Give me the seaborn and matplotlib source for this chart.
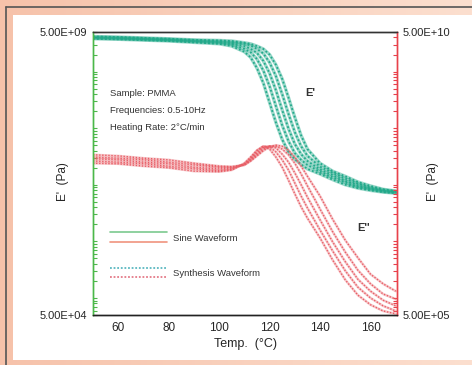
import numpy as np
import pandas as pd
import matplotlib
matplotlib.use("Agg")
import matplotlib.pyplot as plt
import seaborn as sns
from matplotlib.lines import Line2D
from matplotlib.patches import Rectangle
from matplotlib.ticker import FixedLocator, LogLocator, NullFormatter

# temperature grid (degC)
temps = [50, 60, 70, 80, 90, 100, 105, 110, 112.5, 115, 117.5, 120, 122.5,
         125, 127.5, 130, 132.5, 135, 140, 145, 150, 155, 160, 165, 170]

# E' (storage modulus), log10(Pa), five frequencies 0.5-10 Hz
e1_f1 = [9.58, 9.57, 9.555, 9.54, 9.515, 9.49, 9.45, 9.35, 9.25, 9.06, 8.80, 8.45, 8.10,
         7.80, 7.58, 7.45, 7.36, 7.28, 7.19, 7.09, 7.00, 6.94, 6.90, 6.87, 6.85]
e1_f2 = [9.59, 9.58, 9.565, 9.55, 9.53, 9.505, 9.48, 9.40, 9.34, 9.22, 9.02, 8.74, 8.39,
         8.05, 7.77, 7.56, 7.44, 7.35, 7.23, 7.13, 7.04, 6.96, 6.92, 6.88, 6.86]
e1_f3 = [9.60, 9.59, 9.575, 9.56, 9.54, 9.52, 9.50, 9.45, 9.40, 9.33, 9.19, 8.97, 8.67,
         8.32, 7.99, 7.72, 7.54, 7.42, 7.27, 7.17, 7.07, 6.99, 6.93, 6.89, 6.87]
e1_f4 = [9.61, 9.60, 9.585, 9.57, 9.55, 9.535, 9.52, 9.49, 9.46, 9.40, 9.32, 9.16, 8.92,
         8.60, 8.25, 7.93, 7.68, 7.51, 7.32, 7.21, 7.11, 7.02, 6.95, 6.91, 6.88]
e1_f5 = [9.62, 9.61, 9.595, 9.58, 9.56, 9.55, 9.54, 9.51, 9.49, 9.45, 9.40, 9.30, 9.12,
         8.87, 8.54, 8.19, 7.87, 7.63, 7.38, 7.24, 7.15, 7.05, 6.98, 6.92, 6.89]

# E'' (loss modulus), log10(Pa), right axis
e2_f1 = [8.38, 8.37, 8.33, 8.30, 8.24, 8.23, 8.26, 8.38, 8.49, 8.61, 8.68, 8.63, 8.49,
         8.31, 8.08, 7.84, 7.61, 7.41, 7.06, 6.67, 6.32, 6.05, 5.88, 5.77, 5.72]
e2_f2 = [8.42, 8.40, 8.37, 8.33, 8.28, 8.25, 8.27, 8.37, 8.47, 8.60, 8.68, 8.67, 8.58,
         8.44, 8.26, 8.03, 7.80, 7.59, 7.20, 6.83, 6.48, 6.19, 6.00, 5.86, 5.77]
e2_f3 = [8.46, 8.44, 8.40, 8.37, 8.31, 8.28, 8.29, 8.36, 8.45, 8.56, 8.66, 8.68, 8.65,
         8.54, 8.40, 8.21, 8.00, 7.78, 7.38, 6.99, 6.64, 6.33, 6.12, 5.96, 5.86]
e2_f4 = [8.49, 8.47, 8.44, 8.40, 8.35, 8.31, 8.31, 8.35, 8.43, 8.53, 8.63, 8.68, 8.68,
         8.63, 8.53, 8.38, 8.19, 7.98, 7.57, 7.17, 6.81, 6.49, 6.25, 6.07, 5.98]
e2_f5 = [8.53, 8.51, 8.47, 8.44, 8.38, 8.33, 8.32, 8.35, 8.42, 8.51, 8.60, 8.67, 8.70,
         8.68, 8.61, 8.49, 8.33, 8.15, 7.80, 7.39, 7.02, 6.71, 6.42, 6.25, 6.12]

freqs = ["f1", "f2", "f3", "f4", "f5"]
x_ticks = [60, 80, 100, 120, 140, 160]

GREEN = "#22a98a"
RED = "#e85e66"

sns.set_style("white")
plt.rcParams['font.family'] = ['Liberation Sans', 'DejaVu Sans']

fig = plt.figure(figsize=(4.72, 3.65), dpi=100)

# peach frame background
bg = fig.add_axes([0, 0, 1, 1])
grad = np.linspace(0, 1, 256)[None, :]
cmap = matplotlib.colors.LinearSegmentedColormap.from_list("peach", ["#f6c2aa", "#fcdfcf"])
bg.imshow(grad, aspect="auto", cmap=cmap, extent=[0, 1, 0, 1])
bg.set_xlim(0, 1)
bg.set_ylim(0, 1)
bg.axis("off")
bg.add_patch(Rectangle((13 / 472, 5 / 365), 1, 1 - 20 / 365, facecolor="white", edgecolor="none"))
bg.plot([5.5 / 472, 5.5 / 472], [0, 1 - 7 / 365], color="#555555", lw=1.2)
bg.plot([5.5 / 472, 1], [1 - 7 / 365, 1 - 7 / 365], color="#555555", lw=1.2)

ax = fig.add_axes([93 / 472, 50 / 365, 304 / 472, 283 / 365])
ax2 = ax.twinx()

storage = pd.DataFrame({"T": temps * 5,
                        "E": 10 ** np.concatenate([e1_f1, e1_f2, e1_f3, e1_f4, e1_f5]),
                        "freq": np.repeat(freqs, len(temps))})
loss = pd.DataFrame({"T": temps * 5,
                     "E": 10 ** np.concatenate([e2_f1, e2_f2, e2_f3, e2_f4, e2_f5]),
                     "freq": np.repeat(freqs, len(temps))})

pal_g = [GREEN] * 5
pal_r = [RED] * 5
# synthesis waveform: dotted band, sine waveform: thin solid line
sns.lineplot(data=storage, x="T", y="E", hue="freq", palette=pal_g, ax=ax, legend=False,
             lw=2.4, alpha=0.45)
sns.lineplot(data=storage, x="T", y="E", hue="freq", palette=pal_g, ax=ax, legend=False,
             lw=1.3, linestyle=(0, (1, 1.2)))
sns.lineplot(data=loss, x="T", y="E", hue="freq", palette=pal_r, ax=ax2, legend=False,
             lw=1.8, alpha=0.35)
sns.lineplot(data=loss, x="T", y="E", hue="freq", palette=pal_r, ax=ax2, legend=False,
             lw=1.0, linestyle=(0, (1, 1.2)))

for a, lo, hi, col in [(ax, 5e4, 5e9, "#4cb84a"), (ax2, 5e5, 5e10, "#e8414b")]:
    a.set_yscale("log")
    a.set_ylim(lo, hi)
    a.yaxis.set_major_locator(FixedLocator([lo, hi]))
    a.set_yticklabels(["%.2E" % lo, "%.2E" % hi])
    a.yaxis.set_minor_locator(LogLocator(base=10, subs=np.arange(1, 10)))
    a.yaxis.set_minor_formatter(NullFormatter())
    a.tick_params(axis="y", which="minor", direction="in", length=3, width=0.8, color=col)
    a.tick_params(axis="y", which="major", direction="in", length=3, width=0.8,
                  color="#333333", labelsize=8, pad=4)

ax.set_xlim(50, 170.5)
ax.set_xticks(x_ticks)
ax.tick_params(axis="x", direction="in", length=7, width=0.9, color="#222222",
               labelsize=8.5, pad=5)
ax.set_xlabel("Temp.  (\u00b0C)", fontsize=9, labelpad=3)
ax.set_ylabel("E'  (Pa)", fontsize=8.5)
ax2.set_ylabel("E'  (Pa)", fontsize=8.5)
ax.yaxis.set_label_coords(-0.078, 0.47)
ax2.yaxis.set_label_coords(1.10, 0.47)

for a in (ax, ax2):
    for s in a.spines.values():
        s.set_linewidth(1.0)
    a.spines["top"].set_color("#333333")
    a.spines["bottom"].set_color("#222222")
ax.spines["left"].set_color("#4cb84a")
ax2.spines["left"].set_color("#4cb84a")
ax.spines["right"].set_color("#e8414b")
ax2.spines["right"].set_color("#e8414b")

# annotations
note_font = dict(fontsize=6.8, color="#333333", family=["Liberation Sans Narrow", "Liberation Sans"])
ax.text(0.056, 0.784, "Sample: PMMA", transform=ax.transAxes, va="center", **note_font)
ax.text(0.056, 0.724, "Frequencies: 0.5-10Hz", transform=ax.transAxes, va="center", **note_font)
ax.text(0.056, 0.664, "Heating Rate: 2\u00b0C/min", transform=ax.transAxes, va="center", **note_font)
ax.text(0.697, 0.784, "E'", transform=ax.transAxes, va="center", fontsize=8,
        fontweight="bold", color="#333333")
ax.text(0.868, 0.307, "E''", transform=ax.transAxes, va="center", fontsize=8,
        fontweight="bold", color="#333333")

# legend drawn by hand
leg_x = [0.056, 0.243]
ax.add_line(Line2D(leg_x, [0.293, 0.293], transform=ax.transAxes, color="#7cc98f", lw=1.2))
ax.add_line(Line2D(leg_x, [0.258, 0.258], transform=ax.transAxes, color="#f0947e", lw=1.2))
ax.add_line(Line2D(leg_x, [0.166, 0.166], transform=ax.transAxes, color="#5ab8c0", lw=1.3,
                   linestyle=(0, (1, 1))))
ax.add_line(Line2D(leg_x, [0.134, 0.134], transform=ax.transAxes, color="#e47a88", lw=1.3,
                   linestyle=(0, (1, 1))))
ax.text(0.263, 0.272, "Sine Waveform", transform=ax.transAxes, va="center", **note_font)
ax.text(0.263, 0.148, "Synthesis Waveform", transform=ax.transAxes, va="center", **note_font)

fig.savefig("out.png", dpi=100)
